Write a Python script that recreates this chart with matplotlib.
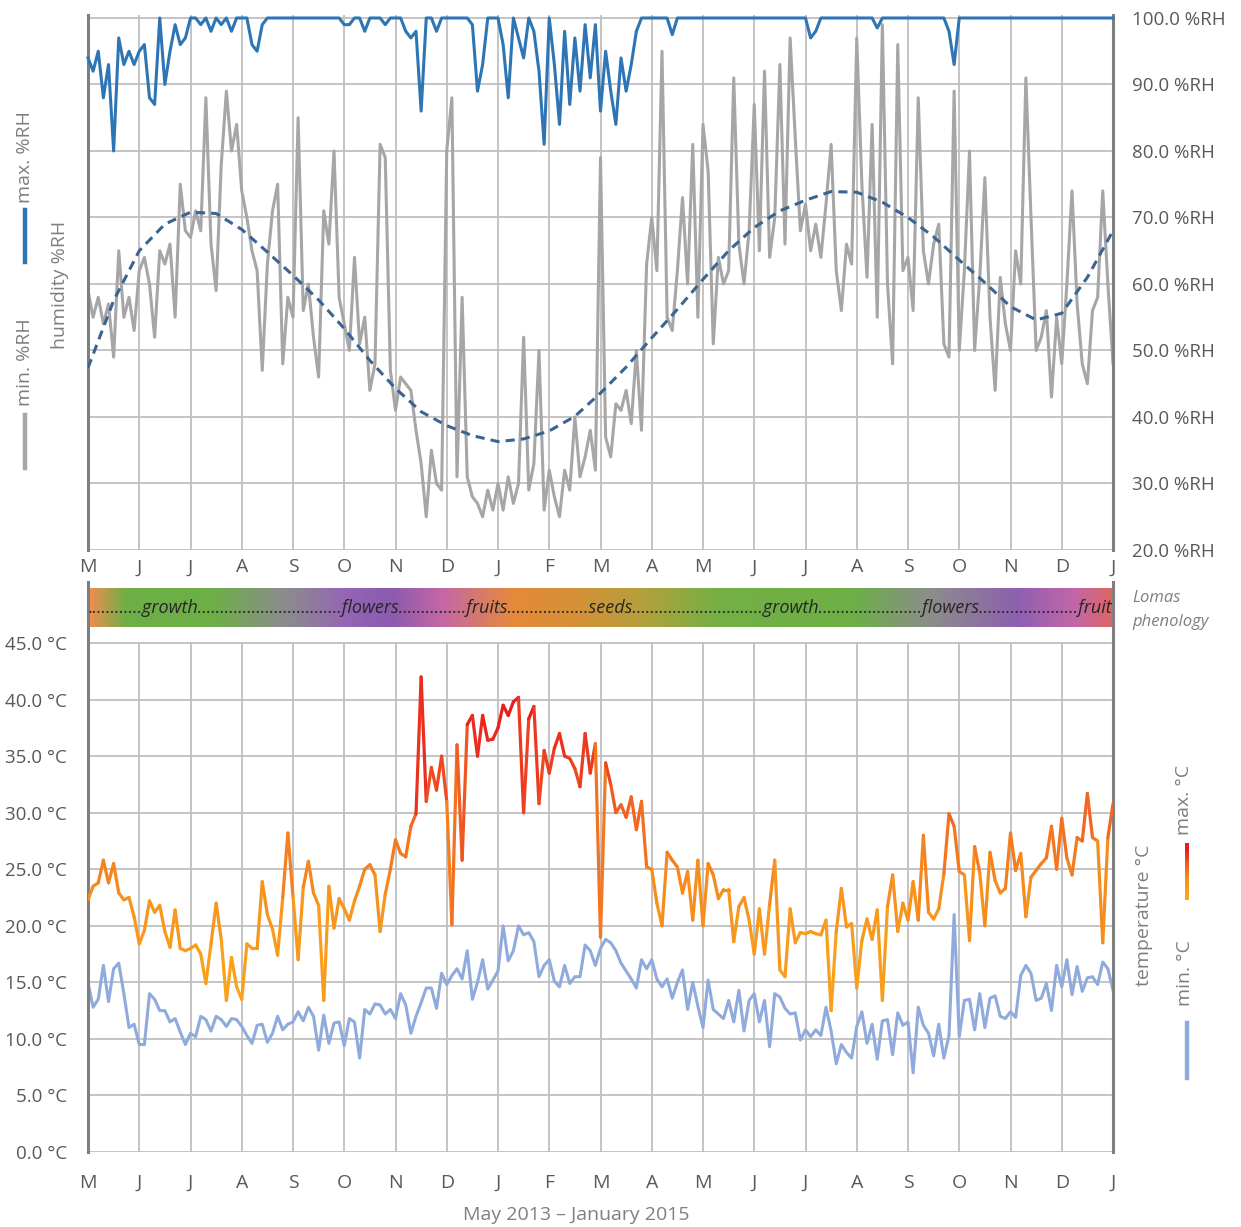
import numpy as np
import matplotlib
matplotlib.use("Agg")
from matplotlib import pyplot as plt
from matplotlib.collections import LineCollection
from matplotlib.colors import LinearSegmentedColormap, Normalize
from matplotlib.lines import Line2D

plt.rcParams["font.family"] = ["Open Sans", "DejaVu Sans"]

# x axis: months from May 2013 (0) to January 2015 (20)
month_labels = ["M", "J", "J", "A", "S", "O", "N", "D", "J", "F", "M",
                "A", "M", "J", "J", "A", "S", "O", "N", "D", "J"]

# daily-ish readings, one value every 0.1 month
rh_max = [
    94, 92, 95, 88, 93, 80, 97, 93, 95, 93,
    95, 96, 88, 87, 100, 90, 95, 99, 96, 97,
    100, 100, 99, 100, 98, 100, 99, 100, 98, 100,
    100, 100, 96, 95, 99, 100, 100, 100, 100, 100,
    100, 100, 100, 100, 100, 100, 100, 100, 100, 100,
    99, 99, 100, 100, 98, 100, 100, 100, 99, 100,
    100, 100, 98, 97, 98, 86, 100, 100, 98, 100,
    100, 100, 100, 100, 100, 99, 89, 93, 100, 100,
    100, 96, 88, 100, 97, 94, 100, 98, 92, 81,
    100, 93, 84, 98, 87, 97, 89, 99, 91, 99,
    86, 95, 89, 84, 94, 89, 93, 98, 100, 100,
    100, 100, 100, 100, 97.5, 100, 100, 100, 100, 100,
    100, 100, 100, 100, 100, 100, 100, 100, 100, 100,
    100, 100, 100, 100, 100, 100, 100, 100, 100, 100,
    100, 97, 98, 100, 100, 100, 100, 100, 100, 100,
    100, 100, 100, 100, 98.5, 100, 100, 100, 100, 100,
    100, 100, 100, 100, 100, 100, 100, 100, 98, 93,
    100, 100, 100, 100, 100, 100, 100, 100, 100, 100,
    100, 100, 100, 100, 100, 100, 100, 100, 100, 100,
    100, 100, 100, 100, 100, 100, 100, 100, 100, 100,
    100,
]
rh_min = [
    59, 55, 58, 54, 57, 49, 65, 55, 58, 53,
    62, 64, 60, 52, 65, 63, 66, 55, 75, 68,
    67, 71, 68, 88, 66, 59, 78, 89, 80, 84,
    74, 70, 65, 62, 47, 63, 71, 75, 48, 58,
    55, 85, 56, 60, 52, 46, 71, 66, 80, 58,
    54, 50, 64, 51, 55, 44, 48, 81, 79, 47,
    41, 46, 45, 44, 38, 33, 25, 35, 30, 29,
    80, 88, 31, 58, 31, 28, 27, 25, 29, 26,
    30, 26, 31, 27, 30, 52, 29, 33, 50, 26,
    32, 28, 25, 32, 29, 40, 31, 34, 38, 32,
    79, 37, 34, 42, 41, 44, 39, 50, 38, 63,
    70, 62, 95, 55, 53, 62, 73, 60, 81, 55,
    84, 77, 51, 64, 60, 62, 91, 66, 60, 68,
    87, 65, 92, 64, 70, 93, 66, 97, 82, 68,
    72, 65, 69, 64, 72, 81, 62, 56, 66, 63,
    97, 75, 61, 84, 55, 99, 60, 48, 96, 62,
    64, 56, 88, 65, 60, 66, 69, 51, 49, 89,
    50, 62, 80, 50, 61, 76, 55, 44, 61, 54,
    50, 65, 60, 91, 70, 50, 52, 56, 43, 55,
    48, 60, 74, 57, 48, 45, 56, 58, 74, 60,
    48,
]
# trend line of min. %RH, one value every half month
rh_trend = [
    47.4, 57.5, 65.0, 69.0, 70.8, 70.6, 68.2, 64.8, 61.3, 57.6,
    53.3, 48.5, 44.3, 40.8, 38.7, 37.2, 36.3, 36.7, 37.9, 40.1,
    43.6, 47.5, 51.9, 56.2, 60.7, 65.0, 68.5, 71.0, 72.6, 73.9,
    73.8, 72.3, 70.0, 67.1, 63.6, 60.2, 56.6, 54.6, 55.6, 61.0,
    68.0,
]
t_max = [
    22.3, 23.5, 23.8, 25.8, 23.8, 25.5, 22.9, 22.3, 22.5, 20.8,
    18.4, 19.6, 22.2, 21.2, 21.8, 19.5, 18.1, 21.4, 18.0, 17.8,
    18.0, 18.3, 17.5, 14.9, 18.4, 22.0, 18.8, 13.4, 17.2, 14.6,
    13.5, 18.4, 18.0, 18.0, 23.9, 21.0, 19.7, 17.4, 22.5, 28.2,
    22.6, 17.0, 23.4, 25.7, 22.9, 21.8, 13.4, 23.5, 19.8, 22.4,
    21.5, 20.5, 22.2, 23.5, 25.0, 25.4, 24.5, 19.5, 22.8, 25.0,
    27.6, 26.4, 26.1, 28.8, 29.9, 42.0, 31.0, 34.0, 32.0, 35.0,
    31.0, 20.1, 36.0, 25.8, 37.8, 38.6, 35.0, 38.6, 36.4, 36.5,
    37.5, 39.5, 38.6, 39.8, 40.2, 30.0, 38.3, 39.4, 30.8, 35.5,
    33.5, 35.7, 37.0, 35.0, 34.8, 33.9, 32.3, 37.0, 33.5, 36.1,
    19.0, 34.4, 32.5, 30.0, 30.7, 29.6, 31.4, 28.5, 31.0, 25.2,
    25.0, 22.0, 20.0, 26.5, 25.8, 25.2, 22.9, 24.8, 20.5, 25.8,
    20.0, 25.5, 24.5, 22.4, 23.2, 23.2, 18.6, 21.7, 22.5, 20.5,
    17.5, 21.5, 17.5, 21.9, 25.8, 16.1, 15.5, 21.5, 18.5, 19.4,
    19.3, 19.5, 19.3, 19.2, 20.5, 12.5, 19.5, 23.3, 19.9, 20.2,
    14.5, 18.7, 20.6, 18.8, 21.4, 13.4, 21.7, 24.5, 19.5, 22.0,
    20.5, 23.9, 20.5, 28.0, 21.2, 20.6, 21.5, 24.6, 29.9, 28.8,
    24.8, 24.5, 18.7, 27.0, 24.7, 20.0, 26.5, 24.0, 22.9, 23.3,
    28.2, 24.9, 26.4, 20.8, 24.3, 24.9, 25.5, 26.0, 28.8, 25.0,
    29.5, 26.0, 24.5, 27.8, 27.5, 31.7, 27.8, 27.5, 18.5, 27.8,
    30.8,
]
t_min = [
    15.0, 12.8, 13.5, 16.5, 13.3, 16.2, 16.7, 14.0, 11.0, 11.3,
    9.5, 9.5, 14.0, 13.5, 12.5, 12.5, 11.5, 11.8, 10.6, 9.5,
    10.5, 10.2, 12.0, 11.7, 10.7, 12.0, 11.7, 11.1, 11.8, 11.7,
    11.1, 10.3, 9.6, 11.2, 11.3, 9.7, 10.5, 12.0, 10.8, 11.3,
    11.5, 12.4, 11.6, 12.8, 12.0, 9.0, 12.1, 9.6, 11.4, 11.5,
    9.4, 11.8, 11.5, 8.3, 12.6, 12.2, 13.1, 13.0, 12.2, 12.6,
    11.8, 14.0, 13.0, 10.5, 12.0, 13.2, 14.5, 14.5, 12.7, 15.8,
    14.8, 15.6, 16.2, 15.3, 17.8, 13.5, 15.0, 17.0, 14.4, 15.2,
    16.0, 20.0, 16.9, 17.8, 20.0, 19.2, 19.4, 18.6, 15.5, 16.5,
    17.0, 15.1, 14.6, 16.5, 14.9, 15.5, 15.5, 18.3, 17.8, 16.5,
    18.0, 18.8, 18.5, 17.8, 16.7, 16.0, 15.3, 14.5, 17.0, 16.2,
    17.0, 15.3, 14.6, 15.3, 13.6, 15.0, 16.1, 12.6, 15.0, 12.9,
    11.0, 15.2, 12.6, 12.2, 11.8, 13.4, 11.5, 14.3, 10.7, 13.4,
    14.0, 11.5, 13.4, 9.3, 14.0, 13.7, 12.7, 12.2, 12.3, 9.9,
    10.8, 10.2, 10.8, 10.3, 12.8, 10.7, 7.8, 9.5, 8.8, 8.3,
    11.1, 12.4, 9.6, 11.3, 8.2, 11.6, 11.7, 8.6, 12.3, 11.2,
    11.5, 7.0, 12.8, 11.2, 10.5, 8.5, 11.3, 8.3, 10.3, 21.0,
    10.2, 13.4, 13.5, 10.8, 14.0, 11.0, 13.6, 13.8, 12.0, 11.8,
    12.4, 11.9, 15.6, 16.5, 15.8, 13.4, 13.6, 14.9, 12.5, 16.5,
    14.6, 17.0, 13.9, 16.4, 14.2, 15.4, 15.5, 14.8, 16.8, 16.2,
    14.3,
]

# phenology band: colour stops (month, colour) and the text inside it
phen_stops = [
    (0.0, "#EB8F4E"), (0.7, "#6DAF47"), (2.4, "#6DAF47"), (3.8, "#8C8C8C"),
    (5.0, "#9466B4"), (5.9, "#8A5BAE"), (6.9, "#C566A6"), (8.3, "#E58A39"),
    (9.5, "#D69038"), (10.8, "#B5A03C"), (12.3, "#74B045"), (15.0, "#6DAF47"),
    (16.5, "#8C8C8C"), (18.2, "#8E60B0"), (19.3, "#C266A8"), (20.0, "#DB6767"),
]
phen_text = ("." * 12 + "growth" + "." * 32 + "flowers" + "." * 15 + "fruits"
             + "." * 18 + "seeds" + "." * 29 + "growth" + "." * 23
             + "flowers" + "." * 22 + "fruit")

x = np.linspace(0, 20, len(rh_max))
x_trend = np.linspace(0, 20, len(rh_trend))

# colours
TEXT = "#595959"
GRID = "#BFBFBF"
SPINE = "#7F7F7F"
BLUE = "#2E75B6"
GREY = "#A6A6A6"
TREND = "#3B6591"
LIGHTBLUE = "#8FAADC"

W, H = 1241, 1227


def fx(px):
    return px / W


def fy(py):
    return 1 - py / H


fig = plt.figure(figsize=(W / 100, H / 100), dpi=100)

# ---- humidity panel ----
ax1 = fig.add_axes([fx(88), fy(550), (1113 - 88) / W, (550 - 15) / H])
ax1.plot(x, rh_min, color=GREY, lw=2.2, zorder=2)
ax1.plot(x_trend, rh_trend, color=TREND, lw=2.2, ls=(0, (3, 2)), zorder=3)
ax1.plot(x, rh_max, color=BLUE, lw=2.2, zorder=4, clip_on=False)
ax1.set_xlim(0, 20)
ax1.set_ylim(20, 100.45)
ax1.set_xticks(range(21))
ax1.set_xticklabels(month_labels)
ax1.set_yticks(range(20, 101, 10))
ax1.set_yticklabels(["%.1f %%RH" % v for v in range(20, 101, 10)])
ax1.yaxis.tick_right()
ax1.tick_params(axis="x", length=0, pad=6, labelsize=14, labelcolor=TEXT)
ax1.tick_params(axis="y", length=0, pad=14, labelsize=13.5, labelcolor=TEXT)
ax1.grid(True, color=GRID, lw=1.3, zorder=0)
ax1.set_axisbelow(True)
for side in ["top", "bottom"]:
    ax1.spines[side].set_visible(False)
for side in ["left", "right"]:
    ax1.spines[side].set_color(SPINE)
    ax1.spines[side].set_linewidth(2.2)

# ---- temperature panel ----
ax2 = fig.add_axes([fx(88), fy(1152), (1113 - 88) / W, (1152 - 582) / H])
ax2.set_xlim(0, 20)
ax2.set_ylim(0, 570 / 11.31)
ax2.set_yticks(range(0, 46, 5))
ax2.set_yticklabels(["%.1f °C" % v for v in range(0, 46, 5)])
ax2.set_xticks(range(21))
ax2.set_xticklabels(month_labels)
ax2.tick_params(axis="x", length=0, pad=16, labelsize=14, labelcolor=TEXT)
ax2.tick_params(axis="y", length=0, pad=15, labelsize=13.5, labelcolor=TEXT)
ax2.grid(True, axis="y", color=GRID, lw=1.3, zorder=0)
ax2.vlines(range(21), 0, 45, color=GRID, lw=1.3, zorder=0)
for side in ["top", "bottom"]:
    ax2.spines[side].set_visible(False)
for side in ["left", "right"]:
    ax2.spines[side].set_color(SPINE)
    ax2.spines[side].set_linewidth(2.2)

ax2.plot(x, t_min, color=LIGHTBLUE, lw=2.2, zorder=2)

# max. temperature coloured by value
temp_cmap = LinearSegmentedColormap.from_list(
    "temp", [(0.0, "#FBAA19"), (0.33, "#F7941D"), (0.6, "#F26522"),
             (0.87, "#E8201E"), (1.0, "#E41B1B")])
temp_norm = Normalize(12, 42)
tmax = np.array(t_max)
pts = np.column_stack([x, tmax])
segs = np.stack([pts[:-1], pts[1:]], axis=1)
lc = LineCollection(segs, cmap=temp_cmap, norm=temp_norm, linewidths=2.3,
                    capstyle="round", joinstyle="round", zorder=3)
lc.set_array((tmax[:-1] + tmax[1:]) / 2)
ax2.add_collection(lc)

# phenology band
phen_cmap = LinearSegmentedColormap.from_list(
    "phen", [(m / 20, c) for m, c in phen_stops])
band = np.linspace(0, 1, 600).reshape(1, -1)
ax2.imshow(band, cmap=phen_cmap, aspect="auto", extent=[0, 20, 46.42, 49.78],
           interpolation="bilinear", zorder=1)
ax2.text(0.02, 48.1, phen_text, ha="left", va="center", style="italic",
         fontsize=13, color="#262626", zorder=5)

# ---- side labels and legend marks ----
fig.text(fx(25), fy(157), "max. %RH", rotation=90, ha="center", va="center",
         fontsize=14, color=SPINE)
fig.add_artist(Line2D([fx(25)] * 2, [fy(210), fy(262)], color=BLUE, lw=3.2))
fig.text(fx(25), fy(362), "min. %RH", rotation=90, ha="center", va="center",
         fontsize=14, color=SPINE)
fig.add_artist(Line2D([fx(25)] * 2, [fy(415), fy(468)], color=GREY, lw=3.2))
fig.text(fx(60), fy(285), "humidity %RH", rotation=90, ha="center",
         va="center", fontsize=14, color=SPINE)

fig.text(fx(1132), fy(598), "Lomas", style="italic", ha="left", va="center",
         fontsize=12, color=SPINE)
fig.text(fx(1132), fy(622), "phenology", style="italic", ha="left",
         va="center", fontsize=12, color=SPINE)

fig.text(fx(1144), fy(915), "temperature °C", rotation=90, ha="center",
         va="center", fontsize=14, color=SPINE)
fig.text(fx(1184), fy(800), "max. °C", rotation=90, ha="center", va="center",
         fontsize=14, color=SPINE)
cax = fig.add_axes([fx(1185), fy(900), 4 / W, 57 / H])
cax.imshow(np.linspace(1, 0, 50).reshape(-1, 1), cmap=temp_cmap,
           aspect="auto", vmin=0, vmax=1)
cax.axis("off")
fig.text(fx(1185), fy(973), "min. °C", rotation=90, ha="center", va="center",
         fontsize=14, color=SPINE)
fig.add_artist(Line2D([fx(1187)] * 2, [fy(1023), fy(1078)], color=LIGHTBLUE,
                      lw=3.2))

fig.text(fx(576), fy(1215), "May 2013 – January 2015", ha="center",
         va="center", fontsize=14, color=SPINE)

fig.savefig("out.png", dpi=100)
